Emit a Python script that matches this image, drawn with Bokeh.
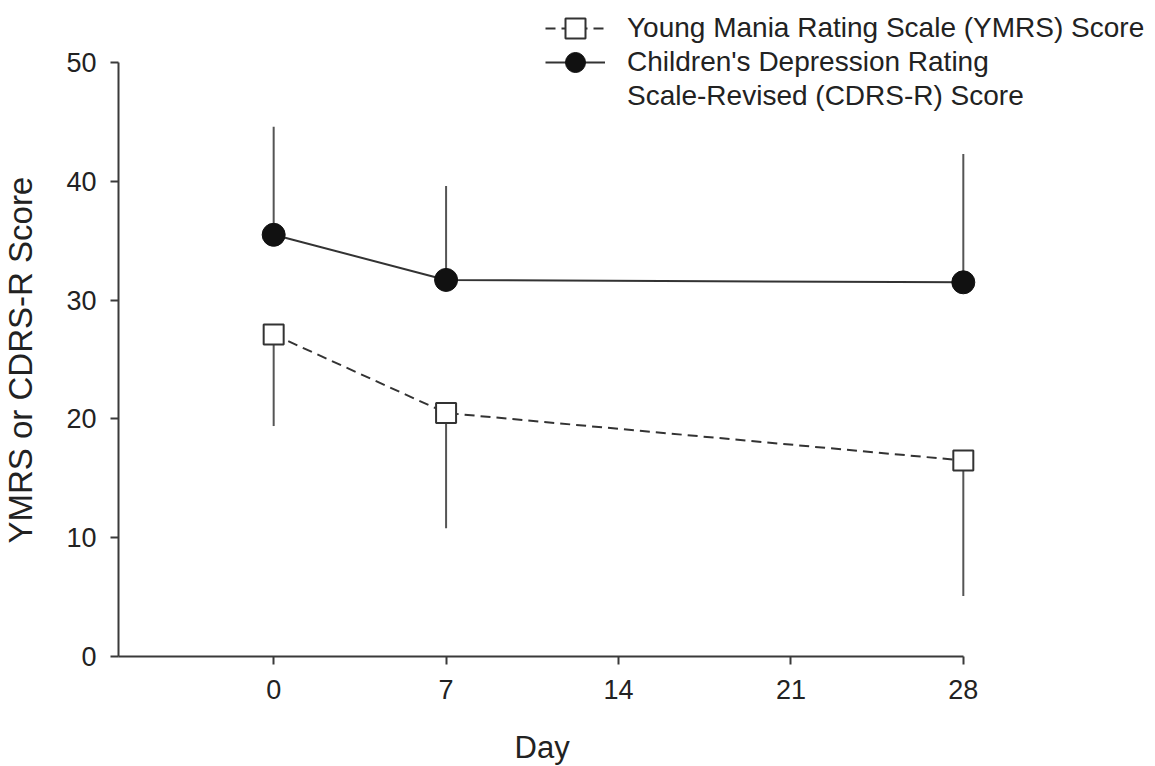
from bokeh.plotting import figure
from bokeh.models import Range1d, FixedTicker, Legend, LegendItem, ColumnDataSource, Title
from bokeh.embed import file_html
from bokeh.resources import INLINE

# ---- data ----
days = [0, 7, 28]
ymrs_mean = [27.1, 20.5, 16.5]
ymrs_err_low = [19.4, 10.8, 5.1]
cdrs_mean = [35.5, 31.7, 31.5]
cdrs_err_high = [44.6, 39.6, 42.3]
x_ticks = [0, 7, 14, 21, 28]
y_ticks = [0, 10, 20, 30, 40, 50]
x_bounds = (-6.3, 28)
y_bounds = (0, 50)
ymrs_label = "Young Mania Rating Scale (YMRS) Score"
cdrs_label_1 = "Children's Depression Rating"
cdrs_label_2 = "Scale-Revised (CDRS-R) Score"
x_title = "Day"
y_title = "YMRS or CDRS-R Score"

FONT = "Liberation Sans"
AX = "#3a3a3a"
TXT = "#222222"

src = ColumnDataSource(dict(day=days, ym=ymrs_mean, yl=ymrs_err_low,
                            cm=cdrs_mean, ch=cdrs_err_high))

p = figure(width=1150, height=766, output_backend="svg", toolbar_location=None,
           x_range=Range1d(-6.3, 35.6), y_range=Range1d(0, 54.97),
           min_border_left=118, min_border_right=0, min_border_top=3,
           min_border_bottom=110)
p.outline_line_color = None
p.xgrid.visible = False
p.ygrid.visible = False
p.background_fill_color = "white"

# error bars
p.segment(x0="day", y0="ym", x1="day", y1="yl", source=src, line_color="#555555", line_width=2)
p.segment(x0="day", y0="cm", x1="day", y1="ch", source=src, line_color="#555555", line_width=2)

# lines
l1 = p.line("day", "ym", source=src, line_color="#333333", line_width=2, line_dash="10 6")
l2 = p.line("day", "cm", source=src, line_color="#333333", line_width=2)

# markers
m1 = p.scatter("day", "ym", source=src, marker="square", size=20, fill_color="white",
               line_color="#333333", line_width=2)
m2 = p.scatter("day", "cm", source=src, marker="circle", size=23, fill_color="#111111",
               line_color="#111111", line_width=1)

# invisible placeholder for the legend's continuation line
blank = p.line(x=[], y=[], line_alpha=0)

# axes
for ax in (p.xaxis[0], p.yaxis[0]):
    ax.axis_line_color = AX
    ax.axis_line_width = 2
    ax.major_tick_line_color = AX
    ax.major_tick_line_width = 2
    ax.major_tick_out = 8
    ax.major_tick_in = 0
    ax.minor_tick_line_color = None
    ax.major_label_text_font = FONT
    ax.major_label_text_font_size = "27px"
    ax.major_label_text_color = TXT
    ax.axis_label_text_font = FONT
    ax.axis_label_text_color = TXT

p.xaxis.ticker = FixedTicker(ticks=x_ticks)
p.yaxis.ticker = FixedTicker(ticks=y_ticks)
p.xaxis.bounds = x_bounds
p.yaxis.bounds = y_bounds
p.xaxis.major_label_standoff = 15
p.yaxis.major_label_standoff = 14
# blank axis labels only reserve spacing between tick labels and the titles
p.xaxis.axis_label = " "
p.xaxis.axis_label_text_font_size = "16px"
p.xaxis.axis_label_standoff = 6
p.yaxis.axis_label = " "
p.yaxis.axis_label_text_font_size = "12px"
p.yaxis.axis_label_standoff = 6

# axis titles (side titles, offset so they centre on the drawn axis lines)
p.add_layout(Title(text=x_title, align="left", offset=396, vertical_align="bottom",
                   standoff=0, text_font=FONT, text_font_size="31px",
                   text_font_style="normal", text_color=TXT), "below")
p.add_layout(Title(text=y_title, align="left", offset=113, vertical_align="top",
                   standoff=0, text_font=FONT, text_font_size="33px",
                   text_font_style="normal", text_color=TXT), "left")

# legend: one single-row legend per text line
common = dict(margin=0, padding=0, spacing=0, glyph_width=60, glyph_height=50,
              label_standoff=22, label_text_font=FONT, label_text_font_size="28px",
              label_text_color=TXT, border_line_color=None, background_fill_alpha=0)
p.add_layout(Legend(items=[LegendItem(label=ymrs_label, renderers=[l1, m1])],
                    location=(427, 603), **common))
p.add_layout(Legend(items=[LegendItem(label=cdrs_label_1, renderers=[l2, m2])],
                    location=(427, 569), **common))
p.add_layout(Legend(items=[LegendItem(label=cdrs_label_2, renderers=[blank])],
                    location=(427, 535), **common))

open("out.html", "w").write(file_html(p, INLINE))
